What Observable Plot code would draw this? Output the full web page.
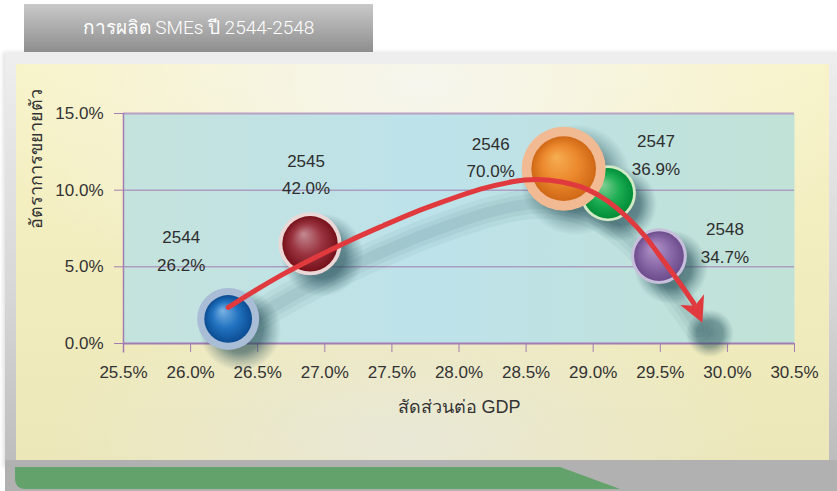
<!DOCTYPE html>
<html>
<head>
<meta charset="utf-8">
<script src="https://cdn.jsdelivr.net/npm/d3@7"></script>
<script src="https://cdn.jsdelivr.net/npm/@observablehq/plot@0.6"></script>
<style>
  html, body { margin: 0; padding: 0; background: #ffffff; }
  #wrap { position: relative; width: 837px; height: 491px; overflow: hidden; font-family: "Liberation Sans", Arial, sans-serif; }
  .abs { position: absolute; }
  #title { left: 24px; top: 4px; width: 349px; height: 48px; background: linear-gradient(#c9c9c9, #8e8e8e); color: #ffffff; font-size: 19px; line-height: 48px; text-align: center; font-family: Roboto, "Liberation Sans", sans-serif; font-weight: 300; }
  #frameOuter { left: 5px; top: 52px; width: 840px; height: 415px; background: linear-gradient(#eeeeee, #d6d6d6 60%, #bcbcbc); box-shadow: -2px 0 4px rgba(0,0,0,0.12); }
  #panel { left: 16px; top: 64px; width: 813px; height: 396px;
    background:
      radial-gradient(ellipse 55% 60% at 50% 5%, rgba(246,246,240,0.95), rgba(246,246,240,0) 100%),
      radial-gradient(ellipse 45% 40% at 48% 95%, rgba(232,232,222,0.8), rgba(232,232,222,0) 100%),
      linear-gradient(#f8f3c6, #ece7b8); }
  #bottomGray { left: 5px; top: 460px; width: 840px; height: 31px; background: #b1b1b1; }
  #green { left: 15px; top: 467px; width: 605px; height: 22px; background: #63a36b; border-bottom-left-radius: 9px;
    clip-path: polygon(0 0, 545px 0, 605px 22px, 0 22px); }
  #chart { left: 0; top: 0; }
</style>
</head>
<body>
<div id="wrap">
  <div id="frameOuter" class="abs"></div>
  <div id="bottomGray" class="abs"></div>
  <div id="green" class="abs"></div>
  <div id="panel" class="abs"></div>
  <div id="title" class="abs">การผลิต SMEs ปี 2544-2548</div>
  <div id="chart" class="abs"></div>
</div>
<script>
// ---- data ----
const years = [2544, 2545, 2546, 2547, 2548];
const gdpShare = [26.28, 26.89, 28.78, 29.11, 29.49];      // x, % of GDP
const growth = [1.6, 6.5, 11.4, 9.8, 5.7];                  // y, growth rate %
const labelPct = ["26.2%", "42.0%", "70.0%", "36.9%", "34.7%"];
const bubbleSize = [9.6, 9.9, 17.6, 7.8, 7.8];              // relative bubble area
const xTicks = [25.5, 26.0, 26.5, 27.0, 27.5, 28.0, 28.5, 29.0, 29.5, 30.0, 30.5];
const yTicks = [0, 5, 10, 15];
// trend arrow drawn over the bubbles (annotation path, data units)
const trendX = [26.28, 26.45, 26.69, 26.89, 27.19, 27.44, 27.66, 27.91, 28.16, 28.41, 28.58, 28.78, 28.96, 29.11, 29.26, 29.40, 29.52, 29.65, 29.75];
const trendY = [2.35, 3.3, 4.55, 5.45, 6.75, 7.70, 8.55, 9.33, 10.11, 10.6, 10.76, 10.55, 10.11, 9.33, 8.22, 6.91, 5.41, 3.91, 2.61];

const titleX = "สัดส่วนต่อ GDP";
const titleY = "อัตราการขยายตัว";

const data = years.map((year, i) => ({year, x: gdpShare[i], y: growth[i], size: bubbleSize[i], label: `${year}\n${labelPct[i]}`}));
const trend = trendX.map((x, i) => ({tx: x, ty: trendY[i]}));

// ---- styles ----
const ringColor = {2544: "#a9bdd7", 2545: "#ecd7d7", 2546: "#f2ba92", 2547: "#d2eac5", 2548: "#c7bfdb"};
const ballStops = {
  2544: ["#7ab2e4", "#2172c0", "#0b4c92"],
  2545: ["#c48a92", "#9a3440", "#761019"],
  2546: ["#f6ad52", "#ec892d", "#cf6816"],
  2547: ["#86d098", "#1eae53", "#008e38"],
  2548: ["#b298c8", "#8e6cab", "#6c4c8c"]
};
const ballScale = {2544: 0.77, 2545: 0.88, 2546: 0.77, 2547: 0.9, 2548: 0.89};
const labelOffset = {2544: [-47, -71], 2545: [-4, -72], 2546: [-73, -14], 2547: [48, -41], 2548: [66, -16]};
const purple = "#a27cb2";
const red = "#e03a3f";
const shadowColor = "#1d4650";
const drawOrder = [2544, 2545, 2547, 2548, 2546];

const marks = [
  Plot.frame({fill: "url(#plotBg)", stroke: "none"}),
  Plot.gridY(yTicks, {stroke: purple, strokeOpacity: 1, strokeWidth: 1}),
  Plot.ruleY([15], {stroke: "#b7a0c2", strokeWidth: 2}),
  Plot.ruleY([0], {stroke: purple, strokeWidth: 2}),
  Plot.ruleX([25.5], {y1: -0.62, y2: 15, stroke: purple, strokeWidth: 1.5}),
  Plot.axisX(xTicks, {tickSize: 9, tickPadding: 13, stroke: purple, tickFormat: d => d.toFixed(1) + "%", fontSize: 17, label: null}),
  Plot.axisY(yTicks, {tickSize: 9, tickPadding: 11, stroke: purple, tickFormat: d => d.toFixed(1) + "%", fontSize: 17, label: null}),
  Plot.text([titleX], {frameAnchor: "bottom", dy: 69, text: d => d, fontSize: 18}),
  Plot.text([titleY], {frameAnchor: "left", dx: -87, rotate: -90, text: d => d, fontSize: 18}),
  // soft drop shadows of the bubbles
  Plot.dot(data, {x: "x", y: "y", r: d => d.size * 1.75, dx: 12, dy: 11, fill: "url(#softShadow)", stroke: "none"}),
  // soft shadow of the trend arrow
  Plot.line(trend, {x: "tx", y: "ty", curve: "basis", dx: 5, dy: 24, stroke: shadowColor, strokeOpacity: 0.05, strokeWidth: 30}),
  Plot.line(trend, {x: "tx", y: "ty", curve: "basis", dx: 5, dy: 24, stroke: shadowColor, strokeOpacity: 0.06, strokeWidth: 20}),
  Plot.line(trend, {x: "tx", y: "ty", curve: "basis", dx: 5, dy: 24, stroke: shadowColor, strokeOpacity: 0.07, strokeWidth: 11}),
  Plot.dot(trend.slice(-1), {x: "tx", y: "ty", r: 24, dx: 16, dy: 30, fill: "url(#softShadow)", fillOpacity: 0.8, stroke: "none"})
];

for (const yr of drawOrder) {
  const sub = data.filter(d => d.year === yr);
  const k = ballScale[yr];
  marks.push(Plot.dot(sub, {x: "x", y: "y", r: "size", fill: ringColor[yr], stroke: "none"}));
  marks.push(Plot.dot(sub, {x: "x", y: "y", r: d => d.size * k * k, fill: `url(#ball${yr})`, stroke: "none"}));
}

marks.push(Plot.line(trend, {x: "tx", y: "ty", curve: "basis", stroke: red, strokeWidth: 5}));

// barbed arrowhead pointing "up" before rotation; tip 1r ahead of the anchor point
const arrowHead = {
  draw(ctx, size) {
    const r = Math.sqrt(size / Math.PI);
    ctx.moveTo(0, -r);
    ctx.lineTo(0.62 * r, 0.2 * r);
    ctx.lineTo(0, -0.12 * r);
    ctx.lineTo(-0.62 * r, 0.2 * r);
    ctx.closePath();
  }
};
marks.push(Plot.dot(trend.slice(-1), {x: "tx", y: "ty", symbol: arrowHead, r: 21, fill: red, stroke: "none", rotate: 156}));

for (const yr of years) {
  const [dx, dy] = labelOffset[yr];
  marks.push(Plot.text(data.filter(d => d.year === yr), {x: "x", y: "y", text: "label", dx, dy, fontSize: 17, lineHeight: 1.62, fill: "#2e2e2e"}));
}

const chart = Plot.plot({
  width: 837,
  height: 491,
  marginLeft: 123,
  marginRight: 43,
  marginTop: 113,
  marginBottom: 148,
  x: {domain: [25.5, 30.5]},
  y: {domain: [0, 15]},
  r: {type: "sqrt", domain: [0, 17.6], range: [0, 42]},
  style: {background: "transparent", fontFamily: "'Liberation Sans', Arial, sans-serif", color: "#333333", overflow: "visible"},
  marks
});

// defs: gradients
const svg = d3.select(chart);
const defs = svg.insert("defs", ":first-child");
const bg = defs.append("linearGradient").attr("id", "plotBg").attr("x1", 0).attr("x2", 1).attr("y1", 0).attr("y2", 0);
[["0%", "#c5e3dd"], ["45%", "#bde2ea"], ["100%", "#c1e2d6"]].forEach(([o, c]) => bg.append("stop").attr("offset", o).attr("stop-color", c));
for (const yr of years) {
  const g = defs.append("radialGradient").attr("id", `ball${yr}`).attr("cx", "50%").attr("cy", "50%").attr("r", "50%").attr("fx", "38%").attr("fy", "32%");
  const [a, b, c] = ballStops[yr];
  g.append("stop").attr("offset", "0%").attr("stop-color", a);
  g.append("stop").attr("offset", "55%").attr("stop-color", b);
  g.append("stop").attr("offset", "100%").attr("stop-color", c);
}
const sg = defs.append("radialGradient").attr("id", "softShadow").attr("cx", "50%").attr("cy", "50%").attr("r", "50%");
[["0%", 0.7], ["55%", 0.58], ["78%", 0.25], ["100%", 0]].forEach(([o, a]) =>
  sg.append("stop").attr("offset", o).attr("stop-color", shadowColor).attr("stop-opacity", a));

document.getElementById("chart").appendChild(chart);
</script>
</body>
</html>
